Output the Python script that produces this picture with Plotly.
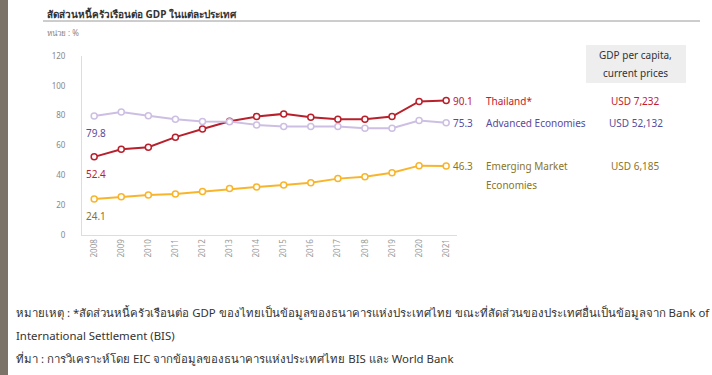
import plotly.graph_objects as go

years = list(range(2008, 2022))
thailand = [52.4, 57.5, 58.9, 65.6, 71.1, 76.3, 79.4, 81.2, 79.0, 77.6, 77.6, 79.4, 89.5, 90.1]
advanced = [79.8, 82.5, 79.9, 77.6, 76.1, 76.0, 73.8, 72.7, 72.7, 72.7, 71.6, 71.6, 76.7, 75.3]
emerging = [24.1, 25.7, 26.8, 27.5, 29.1, 31.1, 32.2, 33.6, 35.1, 37.8, 39.1, 41.8, 46.5, 46.3]

series_names = [["Thailand*"], ["Advanced Economies"], ["Emerging Market", "Economies"]]
gdp_labels = ["USD 7,232", "USD 52,132", "USD 6,185"]
y_ticks = [0, 20, 40, 60, 80, 100, 120]

line_colors = ["#b8202c", "#cdbfe3", "#f8b52c"]
text_colors = ["#c0202c", "#5a4a9a", "#8a7428"]

W, H = 712, 375
L, R, T, B = 82, 457, 56, 235


def px(x):
    return (x - L) / (R - L)


def py(y):
    return (B - y) / (B - T)


FONT = "Noto Sans, DejaVu Sans, sans-serif"

fig = go.Figure()
for vals, lc, nm in zip([thailand, advanced, emerging], line_colors, series_names):
    fig.add_trace(go.Scatter(
        x=years, y=vals, mode="lines+markers", name=" ".join(nm),
        line=dict(color=lc, width=2),
        marker=dict(symbol="circle", size=6, color="white",
                    line=dict(color=lc, width=1.5)),
        showlegend=False, cliponaxis=False,
    ))

ann = []
# start value labels
for vals, tc in zip([thailand, advanced, emerging], text_colors):
    ann.append(dict(x=years[0], y=vals[0], xref="x", yref="y",
                    text=f"{vals[0]:.1f}", showarrow=False,
                    xanchor="left", yanchor="top", xshift=-10, yshift=-8,
                    font=dict(family=FONT, size=10, color=tc)))
# end value labels + names + GDP per capita
for i, (vals, tc, nm) in enumerate(zip([thailand, advanced, emerging], text_colors, series_names)):
    ann.append(dict(x=years[-1], y=vals[-1], xref="x", yref="y",
                    text=f"{vals[-1]:.1f}", showarrow=False,
                    xanchor="left", yanchor="middle", xshift=5,
                    font=dict(family=FONT, size=10, color=tc)))
    for j, part in enumerate(nm):
        ann.append(dict(x=years[-1], y=vals[-1], xref="x", yref="y",
                        text=part, showarrow=False, align="left",
                        xanchor="left", yanchor="middle",
                        xshift=38, yshift=-19 * j,
                        font=dict(family=FONT, size=10, color=tc)))
    ann.append(dict(x=years[-1], y=vals[-1], xref="x", yref="y",
                    text=gdp_labels[i], showarrow=False,
                    xanchor="center", yanchor="middle", xshift=636 - 446.6,
                    font=dict(family=FONT, size=10, color=tc)))

# GDP per capita header
for yy, t in [(55, "GDP per capita,"), (73, "current prices")]:
    ann.append(dict(x=px(635), y=py(yy), xref="paper", yref="paper",
                    text=t, showarrow=False,
                    xanchor="center", yanchor="middle",
                    font=dict(family=FONT, size=10, color="#333333")))
# title
ann.append(dict(x=px(45), y=py(14), xref="paper", yref="paper",
                text="<b>สัดส่วนหนี้ครัวเรือนต่อ GDP ในแต่ละประเทศ</b>", showarrow=False,
                xanchor="left", yanchor="middle",
                font=dict(family=FONT, size=10, color="#333333")))
ann.append(dict(x=px(45), y=py(33), xref="paper", yref="paper",
                text="หน่วย : %", showarrow=False,
                xanchor="left", yanchor="middle",
                font=dict(family=FONT, size=8, color="#888888")))
# footnotes
foot = [
    (312, "หมายเหตุ : *สัดส่วนหนี้ครัวเรือนต่อ GDP ของไทยเป็นข้อมูลของธนาคารแห่งประเทศไทย ขณะที่สัดส่วนของประเทศอื่นเป็นข้อมูลจาก Bank of"),
    (335, "International Settlement (BIS)"),
    (358, "ที่มา : การวิเคราะห์โดย EIC จากข้อมูลของธนาคารแห่งประเทศไทย BIS และ World Bank"),
]
for yy, t in foot:
    ann.append(dict(x=px(14), y=py(yy), xref="paper", yref="paper",
                    text=t, showarrow=False, xanchor="left", yanchor="middle",
                    font=dict(family=FONT, size=11.4, color="#333333")))

shapes = [
    dict(type="rect", xref="paper", yref="paper", x0=px(0), x1=px(8),
         y0=py(H), y1=py(0), fillcolor="#7b7268", line=dict(width=0), layer="below"),
    dict(type="line", xref="paper", yref="paper", x0=px(43), x1=px(700),
         y0=py(21), y1=py(21), line=dict(color="#9a9a9a", width=1)),
    dict(type="rect", xref="paper", yref="paper", x0=px(586), x1=px(686),
         y0=py(83), y1=py(45), fillcolor="#eeeeee", line=dict(width=0), layer="below"),
]

fig.update_layout(
    width=W, height=H,
    margin=dict(l=L, r=W - R, t=T, b=H - B),
    paper_bgcolor="white", plot_bgcolor="white",
    annotations=ann, shapes=shapes,
    font=dict(family=FONT),
)
fig.update_xaxes(
    range=[2007.55, 2021.4], tickmode="array", tickvals=years,
    ticktext=[str(y) for y in years], tickangle=-90,
    tickfont=dict(family=FONT, size=8, color="#999999"),
    showgrid=False, zeroline=False, showline=True, linecolor="#dddddd",
    ticks="", fixedrange=True,
)
fig.update_yaxes(
    range=[0, 120], tickmode="array", tickvals=y_ticks,
    tickfont=dict(family=FONT, size=8, color="#888888"),
    showgrid=False, zeroline=False, showline=True, linecolor="#dddddd",
    ticks="", ticklabelstandoff=14, fixedrange=True,
)

fig.write_html("out.html")
